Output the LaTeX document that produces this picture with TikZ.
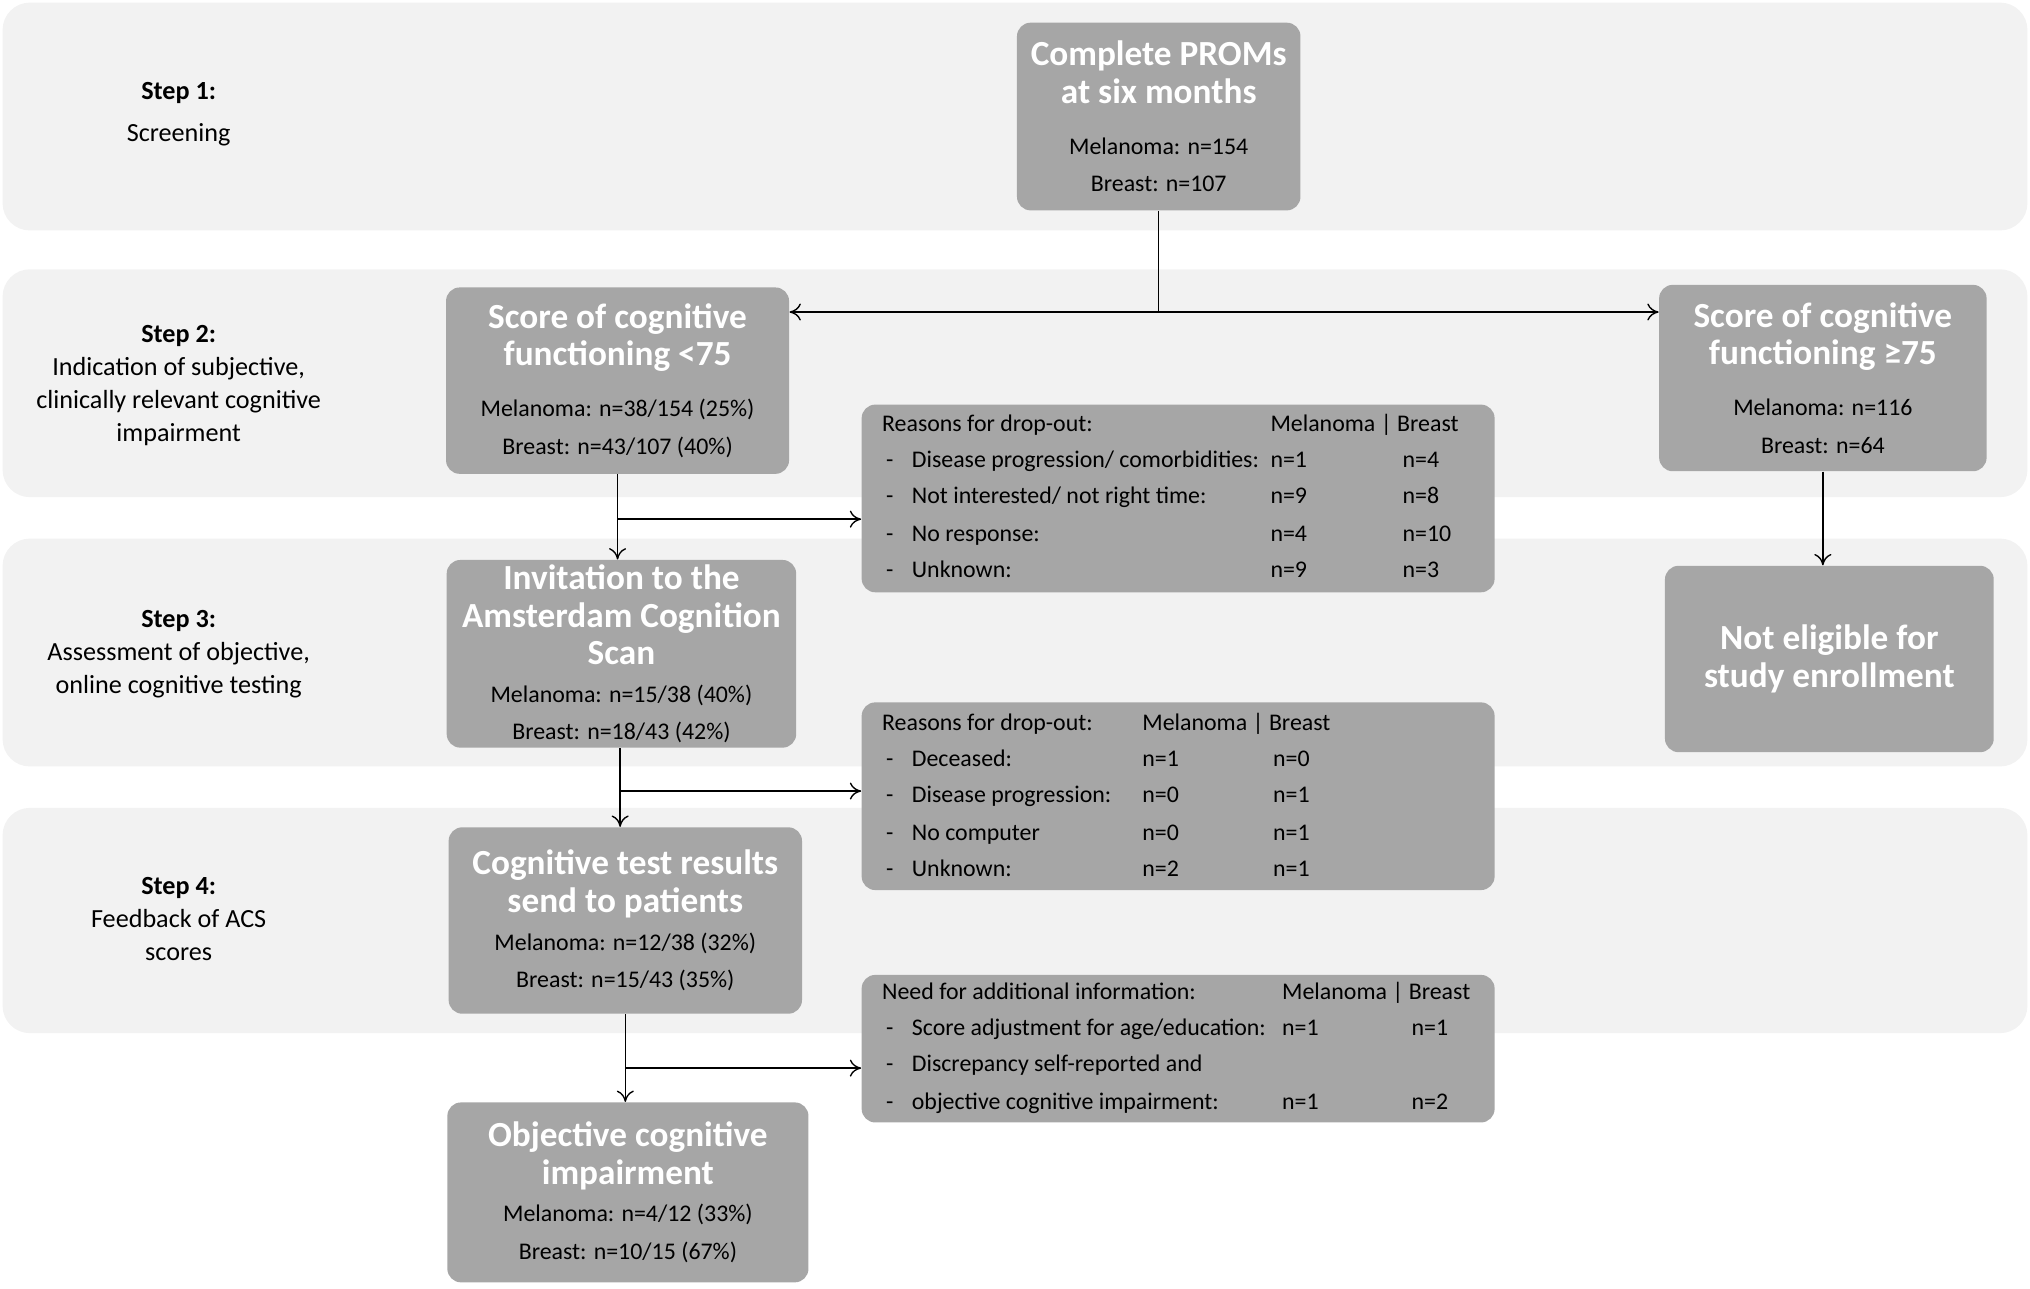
\documentclass[tikz,border=0pt]{standalone}
\usepackage{fontspec}
\setmainfont{Carlito}
\usetikzlibrary{positioning}
\usetikzlibrary{arrows.meta}
\definecolor{bandgray}{HTML}{F2F2F2}
\definecolor{boxgray}{HTML}{A6A6A6}
\tikzset{
  band/.style={fill=bandgray, draw=none, rounded corners=12pt},
  flowbox/.style={fill=boxgray, draw=none, rounded corners=6pt, align=center, inner sep=0pt, font=\fontsize{10.5}{16.5}\selectfont},
  steptext/.style={align=center, font=\fontsize{11.5}{14.5}\selectfont},
  cell/.style={anchor=base west, inner sep=0pt, font=\fontsize{10.5}{12}\selectfont},
  flow/.style={-{>[scale=2.5,length=2,width=3]}, line width=0.6pt}
}
\newcommand{\hd}{\color{white}\bfseries\fontsize{15.5}{16.5}\selectfont}
\begin{document}
\begin{tikzpicture}[x=0.02cm,y=-0.02cm]
\useasboundingbox (0,0) rectangle (1568,995);
% background bands
\fill[band] (2,2) rectangle (1566,178);
\fill[band] (2,208) rectangle (1566,384);
\fill[band] (2,416) rectangle (1566,592);
\fill[band] (2,624) rectangle (1566,798);
% step labels
\node[steptext] (S1) at (138,88) {\textbf{Step 1:}\\[4pt]Screening};
\node[steptext] (S2) at (138,298) {\textbf{Step 2:}\\Indication of subjective,\\clinically relevant cognitive\\impairment};
\node[steptext] (S3) at (138,505) {\textbf{Step 3:}\\Assessment of objective,\\online cognitive testing};
\node[steptext] (S4) at (138,710) {\textbf{Step 4:}\\Feedback of ACS\\scores};
% main boxes
\node[flowbox, minimum width=4.38cm, minimum height=2.9cm] (Proms) at (895,90) {{\hd Complete PROMs}\\{\hd at six months}\\[6pt]Melanoma: n=154\\Breast: n=107};
\node[flowbox, minimum width=5.3cm, minimum height=2.88cm] (Low) at (477,294) {{\hd Score of cognitive}\\{\hd functioning <75}\\[6pt]Melanoma: n=38/154 (25\%)\\Breast: n=43/107 (40\%)};
\node[flowbox, minimum width=5.06cm, minimum height=2.88cm] (High) at (1408,292) {{\hd Score of cognitive}\\{\hd functioning ≥75}\\[6pt]Melanoma: n=116\\Breast: n=64};
\node[flowbox, minimum width=5.4cm, minimum height=2.9cm] (Invite) at (480,505) {{\hd Invitation to the}\\{\hd Amsterdam Cognition}\\{\hd Scan}\\Melanoma: n=15/38 (40\%)\\Breast: n=18/43 (42\%)};
\node[flowbox, minimum width=5.08cm, minimum height=2.88cm] (NotElig) at (1413,509) {{\hd Not eligible for}\\{\hd study enrollment}};
\node[flowbox, minimum width=5.46cm, minimum height=2.88cm] (Results) at (483,711) {{\hd Cognitive test results}\\{\hd send to patients}\\Melanoma: n=12/38 (32\%)\\Breast: n=15/43 (35\%)};
\node[flowbox, minimum width=5.58cm, minimum height=2.78cm] (Objective) at (485,921) {{\hd Objective cognitive}\\{\hd impairment}\\Melanoma: n=4/12 (33\%)\\Breast: n=10/15 (67\%)};
% side boxes
\node[flowbox, minimum width=9.78cm, minimum height=2.9cm] (Drop1) at (910,385) {};
\node[flowbox, minimum width=9.78cm, minimum height=2.9cm] (Drop2) at (910,615) {};
\node[flowbox, minimum width=9.78cm, minimum height=2.28cm] (Info) at (910,810) {};
% drop-out table 1
\node[cell] (D1h) at (681,333) {Reasons for drop-out:};
\node[cell] (D1hc) at (981,333) {Melanoma | Breast};
\foreach \y/\lab/\m/\b [count=\i] in {361/{Disease progression/ comorbidities:}/n=1/n=4, 389/{Not interested/ not right time:}/n=9/n=8, 418/No response:/n=4/n=10, 446/Unknown:/n=9/n=3} {
  \node[cell] (D1d\i) at (684,\y) {-};
  \node[cell] (D1l\i) at (704,\y) {\lab};
  \node[cell] (D1m\i) at (981,\y) {\m};
  \node[cell] (D1b\i) at (1083,\y) {\b};
}
% drop-out table 2
\node[cell] (D2h) at (681,564) {Reasons for drop-out:};
\node[cell] (D2hc) at (882,564) {Melanoma | Breast};
\foreach \y/\lab/\m/\b [count=\i] in {592/Deceased:/n=1/n=0, 620/Disease progression:/n=0/n=1, 649/No computer/n=0/n=1, 677/Unknown:/n=2/n=1} {
  \node[cell] (D2d\i) at (684,\y) {-};
  \node[cell] (D2l\i) at (704,\y) {\lab};
  \node[cell] (D2m\i) at (882,\y) {\m};
  \node[cell] (D2b\i) at (983,\y) {\b};
}
% additional information
\node[cell] (I1h) at (681,772) {Need for additional information:};
\node[cell] (I1hc) at (990,772) {Melanoma | Breast};
\foreach \y/\lab/\m/\b [count=\i] in {800/{Score adjustment for age/education:}/n=1/n=1, 828/Discrepancy self-reported and/{}/{}, 857/objective cognitive impairment:/n=1/n=2} {
  \node[cell] (I1d\i) at (684,\y) {-};
  \node[cell] (I1l\i) at (704,\y) {\lab};
  \node[cell] (I1m\i) at (990,\y) {\m};
  \node[cell] (I1b\i) at (1090,\y) {\b};
}
% connectors
\coordinate (split) at (895,241);
\draw[line width=0.6pt] (Proms.south) -- (split);
\draw[flow] (split) -- (split -| Low.east);
\draw[flow] (split) -- (split -| High.west);
\draw[flow] (High.south) -- (High.south |- NotElig.north);
\coordinate (b1) at (477,401);
\draw[flow] (Low.south) -- (Low.south |- Invite.north);
\draw[flow] (b1) -- (b1 -| Drop1.west);
\coordinate (b2) at (479,611);
\draw[flow] (Invite.south -| b2) -- (b2 |- Results.north);
\draw[flow] (b2) -- (b2 -| Drop2.west);
\coordinate (b3) at (483,825);
\draw[flow] (Results.south) -- (Results.south |- Objective.north);
\draw[flow] (b3) -- (b3 -| Info.west);
\end{tikzpicture}
\end{document}
